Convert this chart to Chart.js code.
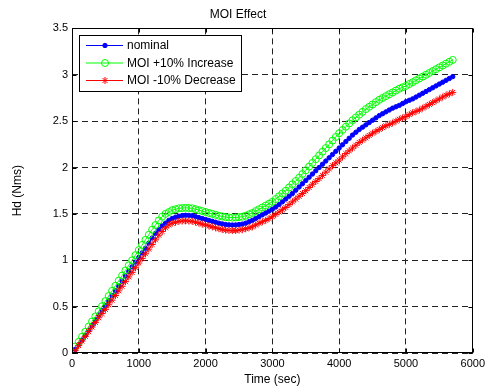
<!DOCTYPE html>
<html>
<head>
<meta charset="utf-8">
<title>MOI Effect</title>
<script src="https://cdn.jsdelivr.net/npm/chart.js@4.4.0/dist/chart.umd.min.js"></script>
<style>
	html, body { margin: 0; padding: 0; background: #fff; }
	#wrap { width: 489px; height: 388px; }
</style>
</head>
<body>
<div id="wrap"><canvas id="moi" width="489" height="388"></canvas></div>
<script>
	// time samples (sec)
	const times = [
		50, 100, 150, 200, 250, 300, 350, 400, 450, 500,
		550, 600, 650, 700, 750, 800, 850, 900, 950, 1000,
		1050, 1100, 1150, 1200, 1250, 1300, 1350, 1400, 1450, 1500,
		1550, 1600, 1650, 1700, 1750, 1800, 1850, 1900, 1950, 2000,
		2050, 2100, 2150, 2200, 2250, 2300, 2350, 2400, 2450, 2500,
		2550, 2600, 2650, 2700, 2750, 2800, 2850, 2900, 2950, 3000,
		3050, 3100, 3150, 3200, 3250, 3300, 3350, 3400, 3450, 3500,
		3550, 3600, 3650, 3700, 3750, 3800, 3850, 3900, 3950, 4000,
		4050, 4100, 4150, 4200, 4250, 4300, 4350, 4400, 4450, 4500,
		4550, 4600, 4650, 4700, 4750, 4800, 4850, 4900, 4950, 5000,
		5050, 5100, 5150, 5200, 5250, 5300, 5350, 5400, 5450, 5500,
		5550, 5600, 5650, 5700
	];

	// Hd (Nms)
	const nominal = [
		0.04, 0.09, 0.14, 0.19, 0.245, 0.30, 0.355, 0.41, 0.46, 0.51,
		0.565, 0.62, 0.67, 0.72, 0.775, 0.83, 0.88, 0.93, 0.98, 1.03,
		1.08, 1.13, 1.185, 1.24, 1.29, 1.33, 1.37, 1.40, 1.43, 1.45,
		1.465, 1.475, 1.482, 1.485, 1.484, 1.48, 1.47, 1.46, 1.45, 1.44,
		1.43, 1.42, 1.41, 1.40, 1.392, 1.385, 1.382, 1.38, 1.381, 1.385,
		1.39, 1.40, 1.415, 1.43, 1.45, 1.47, 1.49, 1.51, 1.53, 1.55,
		1.575, 1.60, 1.63, 1.66, 1.69, 1.72, 1.755, 1.79, 1.825, 1.86,
		1.895, 1.93, 1.965, 2.00, 2.035, 2.07, 2.105, 2.14, 2.175, 2.21,
		2.245, 2.28, 2.315, 2.35, 2.38, 2.41, 2.435, 2.46, 2.485, 2.51,
		2.535, 2.56, 2.58, 2.60, 2.62, 2.64, 2.655, 2.67, 2.69, 2.71,
		2.725, 2.74, 2.76, 2.78, 2.80, 2.82, 2.84, 2.86, 2.88, 2.90,
		2.92, 2.94, 2.96, 2.98
	];

	const moiUp = [
		0.07, 0.12, 0.175, 0.23, 0.285, 0.34, 0.395, 0.45, 0.505, 0.56,
		0.615, 0.67, 0.725, 0.78, 0.835, 0.89, 0.945, 1.00, 1.055, 1.11,
		1.165, 1.22, 1.275, 1.33, 1.38, 1.43, 1.47, 1.50, 1.52, 1.54,
		1.55, 1.56, 1.563, 1.565, 1.563, 1.56, 1.55, 1.54, 1.53, 1.52,
		1.51, 1.50, 1.49, 1.48, 1.472, 1.465, 1.462, 1.46, 1.461, 1.465,
		1.47, 1.48, 1.495, 1.51, 1.53, 1.55, 1.57, 1.59, 1.61, 1.63,
		1.66, 1.69, 1.72, 1.75, 1.785, 1.82, 1.855, 1.89, 1.93, 1.97,
		2.01, 2.05, 2.09, 2.13, 2.17, 2.21, 2.25, 2.29, 2.33, 2.37,
		2.405, 2.44, 2.475, 2.51, 2.54, 2.57, 2.60, 2.63, 2.655, 2.68,
		2.705, 2.73, 2.75, 2.77, 2.79, 2.81, 2.83, 2.85, 2.865, 2.88,
		2.90, 2.92, 2.94, 2.96, 2.98, 3.00, 3.02, 3.04, 3.06, 3.08,
		3.10, 3.12, 3.14, 3.16
	];

	const moiDown = [
		0.03, 0.08, 0.13, 0.18, 0.23, 0.28, 0.33, 0.38, 0.425, 0.47,
		0.52, 0.57, 0.62, 0.67, 0.72, 0.77, 0.82, 0.87, 0.92, 0.97,
		1.02, 1.07, 1.12, 1.17, 1.22, 1.27, 1.31, 1.35, 1.38, 1.40,
		1.41, 1.42, 1.423, 1.425, 1.423, 1.42, 1.41, 1.40, 1.39, 1.38,
		1.37, 1.36, 1.35, 1.34, 1.332, 1.325, 1.322, 1.32, 1.321, 1.325,
		1.33, 1.34, 1.35, 1.36, 1.38, 1.40, 1.415, 1.43, 1.45, 1.47,
		1.495, 1.52, 1.545, 1.57, 1.60, 1.63, 1.66, 1.69, 1.72, 1.75,
		1.785, 1.82, 1.85, 1.88, 1.915, 1.95, 1.985, 2.02, 2.05, 2.08,
		2.115, 2.15, 2.18, 2.21, 2.24, 2.27, 2.295, 2.32, 2.345, 2.37,
		2.39, 2.41, 2.43, 2.45, 2.465, 2.48, 2.50, 2.52, 2.535, 2.55,
		2.57, 2.59, 2.605, 2.62, 2.64, 2.66, 2.68, 2.70, 2.72, 2.74,
		2.76, 2.78, 2.795, 2.81
	];

	const seriesLabels = ['nominal', 'MOI +10% Increase', 'MOI -10% Decrease'];
	const xTicks = [0, 1000, 2000, 3000, 4000, 5000, 6000];
	const yTicks = [0, 0.5, 1, 1.5, 2, 2.5, 3, 3.5];

	const FONT = '"Liberation Sans", Arial, sans-serif';

	function toPoints(ys) {
		return times.map((t, i) => ({ x: t, y: ys[i] }));
	}

	// matlab style box + inward ticks on all four sides
	const boxPlugin = {
		id: 'matlabBox',
		afterDatasetsDraw(chart) {
			const { ctx, chartArea: a, scales } = chart;
			const L = Math.round(a.left) + 0.5, R = Math.round(a.right) - 0.5;
			const T = Math.round(a.top) + 0.5, B = Math.round(a.bottom) - 0.5;
			ctx.save();
			ctx.strokeStyle = '#000';
			ctx.lineWidth = 1;
			ctx.setLineDash([]);
			ctx.strokeRect(L, T, R - L, B - T);
			const tl = 4;
			ctx.beginPath();
			xTicks.forEach(v => {
				const px = Math.round(scales.x.getPixelForValue(v)) + 0.5;
				ctx.moveTo(px, B); ctx.lineTo(px, B - tl);
				ctx.moveTo(px, T); ctx.lineTo(px, T + tl);
			});
			yTicks.forEach(v => {
				const py = Math.round(scales.y.getPixelForValue(v)) + 0.5;
				ctx.moveTo(L, py); ctx.lineTo(L + tl, py);
				ctx.moveTo(R, py); ctx.lineTo(R - tl, py);
			});
			ctx.stroke();
			ctx.restore();
		}
	};

	function drawMarker(ctx, ds, x, y) {
		const r = ds.pointRadius;
		ctx.strokeStyle = ds.pointBorderColor;
		ctx.fillStyle = ds.pointBackgroundColor;
		ctx.lineWidth = 1;
		ctx.beginPath();
		if (ds.pointStyle === 'star') {
			const d = r * Math.SQRT1_2;
			ctx.moveTo(x - r, y); ctx.lineTo(x + r, y);
			ctx.moveTo(x, y - r); ctx.lineTo(x, y + r);
			ctx.moveTo(x - d, y - d); ctx.lineTo(x + d, y + d);
			ctx.moveTo(x - d, y + d); ctx.lineTo(x + d, y - d);
			ctx.stroke();
		} else {
			ctx.arc(x, y, r, 0, Math.PI * 2);
			ctx.fill();
			ctx.stroke();
		}
	}

	// legend box inside the axes, top left
	const legendPlugin = {
		id: 'matlabLegend',
		afterDraw(chart) {
			const ctx = chart.ctx;
			const bx = 79.5, by = 35.5, bw = 162, bh = 56;
			ctx.save();
			ctx.fillStyle = '#fff';
			ctx.fillRect(bx, by, bw, bh);
			ctx.strokeStyle = '#000';
			ctx.lineWidth = 1;
			ctx.strokeRect(bx, by, bw, bh);
			ctx.font = '12px ' + FONT;
			ctx.textBaseline = 'middle';
			const rows = [45.5, 63, 80.5];
			chart.data.datasets.forEach((ds, i) => {
				const y = rows[i];
				ctx.strokeStyle = ds.borderColor;
				ctx.beginPath();
				ctx.moveTo(86, y); ctx.lineTo(123, y);
				ctx.stroke();
				drawMarker(ctx, ds, 105, y);
				ctx.fillStyle = '#000';
				ctx.fillText(ds.label, 127, y + 0.5);
			});
			ctx.restore();
		}
	};

	let ctx = document.getElementById('moi').getContext('2d');

	let chart = new Chart(ctx, {
		type: 'line',
		data: {
			datasets: [{
				label: seriesLabels[0],
				data: toPoints(nominal),
				borderColor: '#0000ff',
				borderWidth: 1,
				pointStyle: 'circle',
				pointRadius: 2.2,
				pointBackgroundColor: '#0000ff',
				pointBorderColor: '#0000ff',
				pointBorderWidth: 1,
				order: 3,
			}, {
				label: seriesLabels[1],
				data: toPoints(moiUp),
				borderColor: '#00ff00',
				borderWidth: 1,
				pointStyle: 'circle',
				pointRadius: 3.5,
				pointBackgroundColor: 'rgba(0,0,0,0)',
				pointBorderColor: '#00ff00',
				pointBorderWidth: 1,
				order: 2,
			}, {
				label: seriesLabels[2],
				data: toPoints(moiDown),
				borderColor: '#ff0000',
				borderWidth: 1,
				pointStyle: 'star',
				pointRadius: 3.5,
				pointBackgroundColor: '#ff0000',
				pointBorderColor: '#ff0000',
				pointBorderWidth: 1,
				order: 1,
			}]
		},
		options: {
			responsive: false,
			animation: false,
			events: [],
			layout: { padding: { left: 0, right: 13, top: 0, bottom: 0 } },
			elements: { line: { tension: 0 } },
			plugins: {
				legend: { display: false },
				tooltip: { enabled: false },
				title: {
					display: true,
					text: 'MOI Effect',
					color: '#000',
					font: { family: FONT, size: 12, weight: 'normal' },
					padding: { top: 7, bottom: 7 }
				}
			},
			scales: {
				x: {
					type: 'linear',
					min: 0,
					max: 6000,
					afterBuildTicks: s => { s.ticks = xTicks.map(v => ({ value: v })); },
					afterFit: s => { s.height = 35; },
					ticks: {
						color: '#000',
						font: { family: FONT, size: 11 },
						padding: 4,
						maxRotation: 0,
						autoSkip: false,
						callback: v => String(v)
					},
					grid: { color: '#222', lineWidth: 1, drawTicks: false },
					border: { display: false, dash: [6, 4] },
					title: {
						display: true,
						text: 'Time (sec)',
						color: '#000',
						font: { family: FONT, size: 12 },
						padding: { top: 0, bottom: 1 }
					}
				},
				y: {
					type: 'linear',
					min: 0,
					max: 3.5,
					afterBuildTicks: s => { s.ticks = yTicks.map(v => ({ value: v })); },
					afterFit: s => { s.width = 72; },
					ticks: {
						color: '#000',
						font: { family: FONT, size: 11 },
						padding: 4,
						callback: v => String(v)
					},
					grid: { color: '#222', lineWidth: 1, drawTicks: false },
					border: { display: false, dash: [6, 4] },
					title: {
						display: true,
						text: 'Hd (Nms)',
						color: '#000',
						font: { family: FONT, size: 12 },
						padding: { top: 10, bottom: 0 }
					}
				}
			}
		},
		plugins: [boxPlugin, legendPlugin]
	});
</script>
</body>
</html>
